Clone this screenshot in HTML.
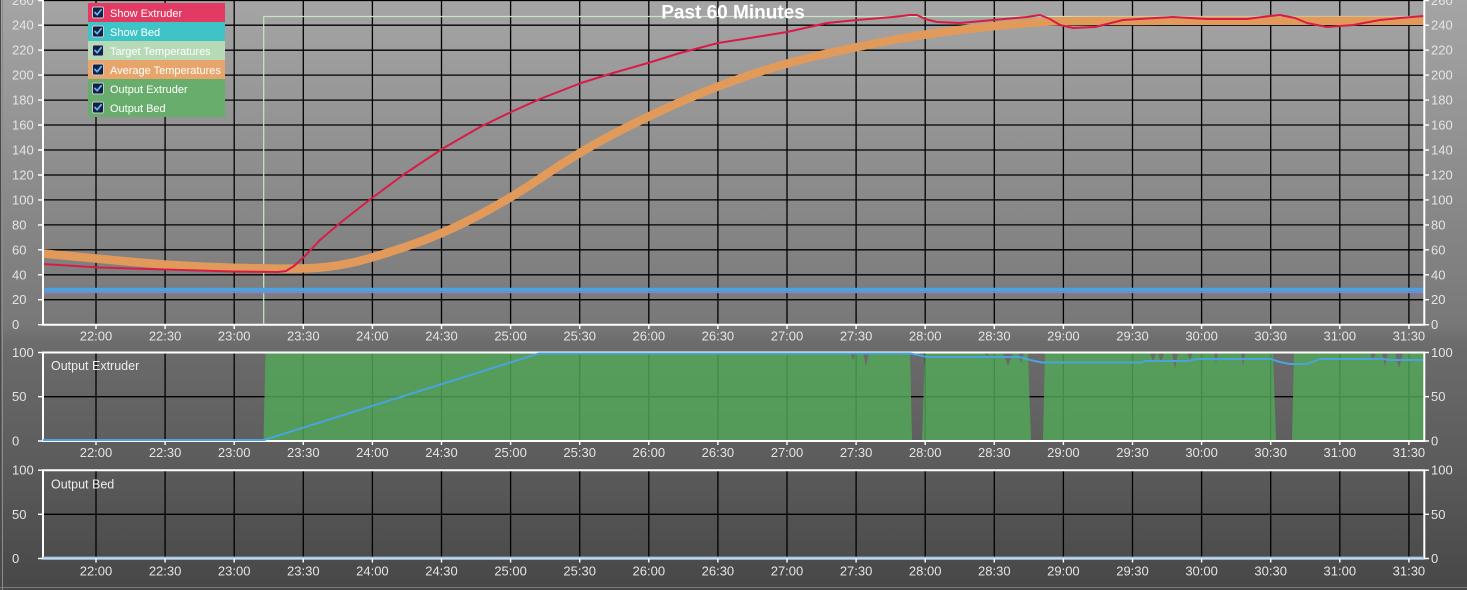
<!DOCTYPE html>
<html><head><meta charset="utf-8"><style>
html,body{margin:0;padding:0;background:#5a5a5a;}
svg{display:block;}
text{font-family:"Liberation Sans",Arial,sans-serif;}
</style></head><body>
<svg width="1467" height="590" viewBox="0 0 1467 590" xmlns="http://www.w3.org/2000/svg">
<defs>
<linearGradient id="bg" x1="0" y1="0" x2="0" y2="1">
<stop offset="0" stop-color="#a5a5a5"/>
<stop offset="0.55" stop-color="#787878"/>
<stop offset="0.58" stop-color="#6c6c6c"/>
<stop offset="0.78" stop-color="#5c5c5c"/>
<stop offset="1" stop-color="#474747"/>
</linearGradient>
</defs>
<rect x="0" y="0" width="1467" height="590" fill="url(#bg)"/>
<line x1="0.5" y1="0" x2="0.5" y2="590" stroke="#4a4a4a" stroke-width="1"/>
<line x1="2.5" y1="0" x2="2.5" y2="590" stroke="#8c8c8c" stroke-width="1"/>
<line x1="0" y1="587.5" x2="1467" y2="587.5" stroke="#7a7a7a" stroke-width="1"/>

<!-- TOP PANEL GRID -->
<g stroke="#000" stroke-width="1.3" fill="none">
<path d="M96 0V324.7M165.1 0V324.7M234.2 0V324.7M303.3 0V324.7M372.4 0V324.7M441.5 0V324.7M510.6 0V324.7M579.7 0V324.7M648.8 0V324.7M717.9 0V324.7M787 0V324.7M856.1 0V324.7M925.2 0V324.7M994.3 0V324.7M1063.4 0V324.7M1132.5 0V324.7M1201.6 0V324.7M1270.7 0V324.7M1339.8 0V324.7M1408.9 0V324.7"/>
<path d="M43 0.5H1424M43 25.2H1424M43 50.2H1424M43 75.1H1424M43 100.1H1424M43 125H1424M43 150H1424M43 175H1424M43 199.9H1424M43 224.9H1424M43 249.8H1424M43 274.8H1424M43 299.7H1424"/>
</g>

<!-- target line -->
<path d="M263.7 324.7V16.5H1424" stroke="#c6e6c2" stroke-width="1.2" fill="none"/>

<!-- bed -->
<line x1="43" y1="289.4" x2="1424" y2="289.4" stroke="#46a5de" stroke-width="3.4"/>
<line x1="43" y1="292.2" x2="1424" y2="292.2" stroke="#7f86d0" stroke-width="2.2"/>

<!-- average -->
<path fill="none" stroke="#e29a5b" stroke-width="8.5" stroke-linejoin="round" d="M43,253.5 L69.5,256 Q96,258.5 130.5,261.75 Q165,265 199.5,266.5 Q234,268 268.5,268.5 Q303,269 320.5,267.5 Q338,266 355,262 Q372,258 406.5,246.5 Q441,235 475.5,217 Q510,199 544.5,175.5 Q579,152 613.5,134 Q648,116 682.5,101 Q717,86 751.5,74.5 Q786,63 820.5,55 Q855,47 890,40.5 Q925,34 959.5,30 Q994,26 1017,24 Q1040,22 1051.5,21.5 Q1063,21 1097.5,20.9 Q1132,20.8 1160,20.8 L1424,20.8"/>

<!-- extruder -->
<polyline fill="none" stroke="#d91c46" stroke-width="2" stroke-linejoin="round" points="43,264 100,267.5 165,269.5 233,271.5 278,272 286,271 294,266 304,257 320,240 340,223 372,198 403,175 442,149 480,127 511,112 540,99 581,83 613,73 648,63 680,53 718,43 750,38 787,32 827,23 857,20 893,17 910,15 917,15 925,19 937,22 960,23 993,20 1027,17 1040,15 1050,19 1060,25 1073,28 1095,27 1123,20 1173,17 1207,19 1247,19 1270,16 1280,15 1295,18 1307,23 1327,27 1353,25 1380,20 1400,18 1424,16"/>

<!-- top panel frame -->
<path d="M43 -2V324.7H1424.3V-2" stroke="#fff" stroke-width="2" fill="none"/>
<g stroke="#fff" stroke-width="1.4">
<path d="M38 0.5H42M38 25.2H42M38 50.2H42M38 75.1H42M38 100.1H42M38 125H42M38 150H42M38 175H42M38 199.9H42M38 224.9H42M38 249.8H42M38 274.8H42M38 299.7H42M38 324.7H42"/>
<path d="M1425 0.5H1429M1425 25.2H1429M1425 50.2H1429M1425 75.1H1429M1425 100.1H1429M1425 125H1429M1425 150H1429M1425 175H1429M1425 199.9H1429M1425 224.9H1429M1425 249.8H1429M1425 274.8H1429M1425 299.7H1429M1425 324.7H1429"/>
<path d="M96 325V329M165.1 325V329M234.2 325V329M303.3 325V329M372.4 325V329M441.5 325V329M510.6 325V329M579.7 325V329M648.8 325V329M717.9 325V329M787 325V329M856.1 325V329M925.2 325V329M994.3 325V329M1063.4 325V329M1132.5 325V329M1201.6 325V329M1270.7 325V329M1339.8 325V329M1408.9 325V329"/>
</g>

<!-- MIDDLE PANEL -->
<g stroke="#000" stroke-width="1.3" fill="none">
<path d="M96 352.5V441M165.1 352.5V441M234.2 352.5V441M303.3 352.5V441M372.4 352.5V441M441.5 352.5V441M510.6 352.5V441M579.7 352.5V441M648.8 352.5V441M717.9 352.5V441M787 352.5V441M856.1 352.5V441M925.2 352.5V441M994.3 352.5V441M1063.4 352.5V441M1132.5 352.5V441M1201.6 352.5V441M1270.7 352.5V441M1339.8 352.5V441M1408.9 352.5V441"/>
<path d="M43 396.7H1424"/>
</g>
<g fill="#52a858" fill-opacity="0.82">
<polygon points="263.5,441 265.5,352.5 910,352.5 912,441"/>
<polygon points="922,441 925,352.5 1028,352.5 1031,441"/>
<polygon points="1043,441 1045,352.5 1273,352.5 1276,441"/>
<polygon points="1292,441 1294,352.5 1424,352.5 1424,441"/>
</g>
<g fill="#6a6a6a">
<polygon points="850,353 853,360 856,353"/>
<polygon points="863,353 866,366 869,353"/>
<polygon points="984,353 987,356 990,353"/>
<polygon points="1003,353 1008,366 1013,353"/>
<polygon points="1018,353 1021,363 1024,353"/>
<polygon points="1150,353 1153,362 1156,353"/>
<polygon points="1158,353 1161,363 1164,353"/>
<polygon points="1172,353 1175,369 1178,353"/>
<polygon points="1187,353 1190,360 1193,353"/>
<polygon points="1214,353 1216,363 1218,353"/>
<polygon points="1241,353 1243,366 1245,353"/>
<polygon points="1370,353 1373,360 1376,353"/>
<polygon points="1382,353 1385,366 1388,353"/>
<polygon points="1395,353 1399,368 1403,353"/>
</g>
<path d="M43 352.5V441H1424.3V352.5Z" stroke="#fff" stroke-width="2" fill="none"/>
<line x1="43" y1="440" x2="264" y2="440" stroke="#9cc8f0" stroke-width="2"/>
<polyline fill="none" stroke="#4aa3dc" stroke-width="2" stroke-linejoin="round" points="43,440 264,440 539,353.5 910,353.5 918,355 927,357 1020,357 1030,360 1042,362.5 1142,362.5 1145,361 1188,361 1197,359 1270,359 1280,362 1290,364 1307,364 1320,359 1383,359 1390,360 1423,360"/>
<g stroke="#fff" stroke-width="1.4">
<path d="M38 352.5H42M38 396.7H42M38 441H42M1425 352.5H1429M1425 396.7H1429M1425 441H1429"/>
<path d="M96 441V445M165.1 441V445M234.2 441V445M303.3 441V445M372.4 441V445M441.5 441V445M510.6 441V445M579.7 441V445M648.8 441V445M717.9 441V445M787 441V445M856.1 441V445M925.2 441V445M994.3 441V445M1063.4 441V445M1132.5 441V445M1201.6 441V445M1270.7 441V445M1339.8 441V445M1408.9 441V445"/>
</g>

<!-- BOTTOM PANEL -->
<g stroke="#000" stroke-width="1.3" fill="none">
<path d="M96 470.2V558.5M165.1 470.2V558.5M234.2 470.2V558.5M303.3 470.2V558.5M372.4 470.2V558.5M441.5 470.2V558.5M510.6 470.2V558.5M579.7 470.2V558.5M648.8 470.2V558.5M717.9 470.2V558.5M787 470.2V558.5M856.1 470.2V558.5M925.2 470.2V558.5M994.3 470.2V558.5M1063.4 470.2V558.5M1132.5 470.2V558.5M1201.6 470.2V558.5M1270.7 470.2V558.5M1339.8 470.2V558.5M1408.9 470.2V558.5"/>
<path d="M43 514.3H1424"/>
</g>
<path d="M43 470.2V558.5H1424.3V470.2Z" stroke="#fff" stroke-width="2" fill="none"/>
<line x1="43" y1="557.6" x2="1424" y2="557.6" stroke="#9cc8f0" stroke-width="2"/>
<g stroke="#fff" stroke-width="1.4">
<path d="M38 470.2H42M38 514.3H42M38 558.5H42M1425 470.2H1429M1425 514.3H1429M1425 558.5H1429"/>
<path d="M96 558.5V562.5M165.1 558.5V562.5M234.2 558.5V562.5M303.3 558.5V562.5M372.4 558.5V562.5M441.5 558.5V562.5M510.6 558.5V562.5M579.7 558.5V562.5M648.8 558.5V562.5M717.9 558.5V562.5M787 558.5V562.5M856.1 558.5V562.5M925.2 558.5V562.5M994.3 558.5V562.5M1063.4 558.5V562.5M1132.5 558.5V562.5M1201.6 558.5V562.5M1270.7 558.5V562.5M1339.8 558.5V562.5M1408.9 558.5V562.5"/>
</g>

<!-- Y labels -->
<g fill="#e4e4e4" font-size="13">
<text x="12" y="4.8">260</text><text x="12" y="29.7">240</text><text x="12" y="54.7">220</text><text x="12" y="79.6">200</text><text x="12" y="104.6">180</text><text x="12" y="129.5">160</text><text x="12" y="154.5">140</text><text x="12" y="179.5">120</text><text x="12" y="204.4">100</text><text x="12" y="229.4">80</text><text x="12" y="254.3">60</text><text x="12" y="279.3">40</text><text x="12" y="304.2">20</text><text x="12" y="329.2">0</text>
<text x="1431" y="4.8">260</text><text x="1431" y="29.7">240</text><text x="1431" y="54.7">220</text><text x="1431" y="79.6">200</text><text x="1431" y="104.6">180</text><text x="1431" y="129.5">160</text><text x="1431" y="154.5">140</text><text x="1431" y="179.5">120</text><text x="1431" y="204.4">100</text><text x="1431" y="229.4">80</text><text x="1431" y="254.3">60</text><text x="1431" y="279.3">40</text><text x="1431" y="304.2">20</text><text x="1431" y="329.2">0</text>
<text x="12" y="357">100</text><text x="12" y="401.2">50</text><text x="12" y="445.5">0</text>
<text x="1431" y="357">100</text><text x="1431" y="401.2">50</text><text x="1431" y="445.5">0</text>
<text x="12" y="474.7">100</text><text x="12" y="518.8">50</text><text x="12" y="563">0</text>
<text x="1431" y="474.7">100</text><text x="1431" y="518.8">50</text><text x="1431" y="563">0</text>
</g>

<!-- X labels -->
<g fill="#e4e4e4" font-size="13" text-anchor="middle">
<text x="96" y="340.5">22:00</text><text x="165.1" y="340.5">22:30</text><text x="234.2" y="340.5">23:00</text><text x="303.3" y="340.5">23:30</text><text x="372.4" y="340.5">24:00</text><text x="441.5" y="340.5">24:30</text><text x="510.6" y="340.5">25:00</text><text x="579.7" y="340.5">25:30</text><text x="648.8" y="340.5">26:00</text><text x="717.9" y="340.5">26:30</text><text x="787" y="340.5">27:00</text><text x="856.1" y="340.5">27:30</text><text x="925.2" y="340.5">28:00</text><text x="994.3" y="340.5">28:30</text><text x="1063.4" y="340.5">29:00</text><text x="1132.5" y="340.5">29:30</text><text x="1201.6" y="340.5">30:00</text><text x="1270.7" y="340.5">30:30</text><text x="1339.8" y="340.5">31:00</text><text x="1408.9" y="340.5">31:30</text>
<text x="96" y="457">22:00</text><text x="165.1" y="457">22:30</text><text x="234.2" y="457">23:00</text><text x="303.3" y="457">23:30</text><text x="372.4" y="457">24:00</text><text x="441.5" y="457">24:30</text><text x="510.6" y="457">25:00</text><text x="579.7" y="457">25:30</text><text x="648.8" y="457">26:00</text><text x="717.9" y="457">26:30</text><text x="787" y="457">27:00</text><text x="856.1" y="457">27:30</text><text x="925.2" y="457">28:00</text><text x="994.3" y="457">28:30</text><text x="1063.4" y="457">29:00</text><text x="1132.5" y="457">29:30</text><text x="1201.6" y="457">30:00</text><text x="1270.7" y="457">30:30</text><text x="1339.8" y="457">31:00</text><text x="1408.9" y="457">31:30</text>
<text x="96" y="575.5">22:00</text><text x="165.1" y="575.5">22:30</text><text x="234.2" y="575.5">23:00</text><text x="303.3" y="575.5">23:30</text><text x="372.4" y="575.5">24:00</text><text x="441.5" y="575.5">24:30</text><text x="510.6" y="575.5">25:00</text><text x="579.7" y="575.5">25:30</text><text x="648.8" y="575.5">26:00</text><text x="717.9" y="575.5">26:30</text><text x="787" y="575.5">27:00</text><text x="856.1" y="575.5">27:30</text><text x="925.2" y="575.5">28:00</text><text x="994.3" y="575.5">28:30</text><text x="1063.4" y="575.5">29:00</text><text x="1132.5" y="575.5">29:30</text><text x="1201.6" y="575.5">30:00</text><text x="1270.7" y="575.5">30:30</text><text x="1339.8" y="575.5">31:00</text><text x="1408.9" y="575.5">31:30</text>
</g>

<!-- panel titles -->
<g fill="#ececec" font-size="12.5">
<text x="51" y="370">Output Extruder</text>
<text x="51" y="488.5">Output Bed</text>
</g>

<!-- legend -->
<rect x="88" y="3" width="137" height="19" fill="#e23a62"/>
<rect x="88" y="22" width="137" height="19" fill="#3ec4c6"/>
<rect x="88" y="41" width="137" height="19" fill="#b6d9b6"/>
<rect x="88" y="60" width="137" height="19" fill="#e7a56c"/>
<rect x="88" y="79" width="137" height="19" fill="#69ad6c"/>
<rect x="88" y="98" width="137" height="19" fill="#69ad6c"/>
<g>
<rect x="92.5" y="7" width="11" height="11" rx="1.5" fill="#17203a" stroke="#c8c8d8" stroke-width="1"/>
<rect x="92.5" y="26" width="11" height="11" rx="1.5" fill="#17203a" stroke="#c8c8d8" stroke-width="1"/>
<rect x="92.5" y="45" width="11" height="11" rx="1.5" fill="#17203a" stroke="#c8c8d8" stroke-width="1"/>
<rect x="92.5" y="64" width="11" height="11" rx="1.5" fill="#17203a" stroke="#c8c8d8" stroke-width="1"/>
<rect x="92.5" y="83" width="11" height="11" rx="1.5" fill="#17203a" stroke="#c8c8d8" stroke-width="1"/>
<rect x="92.5" y="102" width="11" height="11" rx="1.5" fill="#17203a" stroke="#c8c8d8" stroke-width="1"/>
</g>
<g fill="none" stroke="#5ab4ff" stroke-width="1.8" stroke-linecap="round" stroke-linejoin="round">
<path d="M95 12.5l2.2 2.2 4-5"/>
<path d="M95 31.5l2.2 2.2 4-5"/>
<path d="M95 50.5l2.2 2.2 4-5"/>
<path d="M95 69.5l2.2 2.2 4-5"/>
<path d="M95 88.5l2.2 2.2 4-5"/>
<path d="M95 107.5l2.2 2.2 4-5"/>
</g>
<g fill="#ffffff" font-size="11">
<text x="110" y="17">Show Extruder</text>
<text x="110" y="36">Show Bed</text>
<text x="110" y="55">Target Temperatures</text>
<text x="110" y="74">Average Temperatures</text>
<text x="110" y="93">Output Extruder</text>
<text x="110" y="112">Output Bed</text>
</g>

<!-- title -->
<text x="733" y="18.5" text-anchor="middle" fill="#ffffff" font-size="19" font-weight="bold">Past 60 Minutes</text>
</svg>
</body></html>
